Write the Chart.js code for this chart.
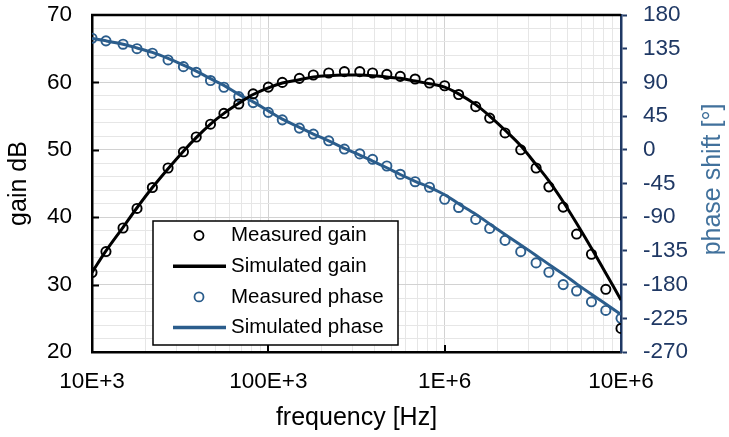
<!DOCTYPE html>
<html>
<head>
<meta charset="utf-8">
<script src="https://cdn.jsdelivr.net/npm/chart.js@4.4.0/dist/chart.umd.min.js"></script>
<style>
  html, body { margin: 0; padding: 0; background: #ffffff; }
  #chart { display: block; }
</style>
</head>
<body>
<canvas id="chart" width="729" height="437"></canvas>
<script>
// frequencies (E12 steps, Hz)
var freq = [10e3, 12e3, 15e3, 18e3, 22e3, 27e3, 33e3, 39e3, 47e3, 56e3, 68e3, 82e3,
            100e3, 120e3, 150e3, 180e3, 220e3, 270e3, 330e3, 390e3, 470e3, 560e3, 680e3, 820e3,
            1e6, 1.2e6, 1.5e6, 1.8e6, 2.2e6, 2.7e6, 3.3e6, 3.9e6, 4.7e6, 5.6e6, 6.8e6, 8.2e6, 10e6];

var gainMeasured = [31.8, 34.9, 38.4, 41.3, 44.4, 47.3, 49.7, 51.9, 53.8, 55.4, 56.8, 58.3,
                    59.3, 60.0, 60.6, 61.1, 61.4, 61.6, 61.6, 61.4, 61.2, 60.9, 60.5, 59.9,
                    59.5, 58.2, 56.4, 54.7, 52.5, 50.0, 47.3, 44.5, 41.5, 37.5, 34.5, 29.3, 23.5];

var gainSimulated = [31.8, 35.0, 38.5, 41.4, 44.4, 47.2, 49.8, 51.8, 53.8, 55.4, 56.9, 58.2,
                     59.2, 59.9, 60.4, 60.8, 61.0, 61.1, 61.1, 61.0, 60.8, 60.6, 60.2, 59.8,
                     59.3, 58.3, 56.7, 55.0, 52.9, 50.6, 47.8, 45.4, 42.3, 39.1, 35.4, 31.7, 27.7];

var phaseMeasured = [149, 145.5, 141, 135, 129, 120, 111, 103.5, 92.5, 83.5, 71, 63,
                     50, 40, 29, 21, 12, 1, -5.5, -12.7, -21.6, -32.7, -42.6, -50,
                     -66, -77, -93, -105, -121, -136, -151, -163.5, -180, -188.5, -203, -214.5, -225];

var phaseSimulated = [148.5, 145.5, 141, 136, 130, 122, 113, 105, 95, 86, 74, 64,
                      52, 41, 30, 21, 12, 2, -7, -15, -24, -33, -42, -50,
                      -60, -72, -86, -99, -113, -127, -141, -153, -166, -179, -193, -206, -220];

// axis ticks
var decades = [1e4, 1e5, 1e6, 1e7];
var decadeLabels = ['10E+3', '100E+3', '1E+6', '10E+6'];
var gainMin = 20, gainMax = 70, gainGridStep = 2, gainLabelStep = 10;
var phaseTicks = [-270, -225, -180, -135, -90, -45, 0, 45, 90, 135, 180];

var seriesNames = ['Measured gain', 'Simulated gain', 'Measured phase', 'Simulated phase'];

var BLUE = '#2B5D8C';
var NAVY = '#1F3864';
var FONT = "'Liberation Sans', Arial, sans-serif";

function pts(ys) {
  return freq.map(function(f, i) { return {x: f, y: ys[i]}; });
}

var freqGrid = [];
for (var d = 0; d < decades.length - 1; d++) {
  for (var m = 1; m < 10; m++) freqGrid.push(decades[d] * m);
}
freqGrid.push(decades[decades.length - 1]);

var gainGrid = [];
for (var g = gainMin; g <= gainMax; g += gainGridStep) gainGrid.push(g);

function isDecade(v) {
  return decades.some(function(d) { return Math.abs(v - d) / d < 1e-6; });
}

// keep tick padding from pushing the plot area down
function fixWidth(w) {
  return function(s) {
    s.width = w;
    s.paddingTop = 10;
    s.paddingBottom = 10;
  };
}

// top border, inward tick marks
var framePlugin = {
  id: 'frame',
  beforeDatasetsDraw: function(chart) {
    var a = chart.chartArea, ctx = chart.ctx;
    var sx = chart.scales.x, sy = chart.scales.y;
    ctx.save();
    ctx.strokeStyle = '#000';
    ctx.lineWidth = 2.5;
    ctx.beginPath();
    ctx.moveTo(a.left - 1, a.top);
    ctx.lineTo(a.right, a.top);
    ctx.stroke();
    ctx.lineWidth = 2;
    ctx.beginPath();
    gainGrid.forEach(function(v) {
      if (v % gainLabelStep === 0 && v > gainMin && v < gainMax) {
        var py = Math.round(sy.getPixelForValue(v)) + 0.5;
        ctx.moveTo(a.left, py);
        ctx.lineTo(a.left + 7, py);
      }
    });
    decades.forEach(function(v, i) {
      if (i > 0 && i < decades.length - 1) {
        var px = Math.round(sx.getPixelForValue(v));
        ctx.moveTo(px, a.bottom);
        ctx.lineTo(px, a.bottom - 7);
      }
    });
    ctx.stroke();
    ctx.restore();
  }
};

// boxed legend inside the plot and the right axis title
var legendPlugin = {
  id: 'boxLegend',
  afterDatasetsDraw: function(chart) {
    var ctx = chart.ctx;
    var bx = 153, by = 221, bw = 245, bh = 124;
    ctx.save();
    ctx.fillStyle = '#ffffff';
    ctx.fillRect(bx, by, bw, bh);
    ctx.strokeStyle = '#000';
    ctx.lineWidth = 1.5;
    ctx.strokeRect(bx, by, bw, bh);
    ctx.font = '20.5px ' + FONT;
    ctx.textBaseline = 'middle';
    ctx.textAlign = 'left';
    chart.data.datasets.forEach(function(ds, i) {
      var cy = by + 14.5 + i * 30.7;
      if (ds.showLine) {
        ctx.strokeStyle = ds.borderColor;
        ctx.lineWidth = 3.5;
        ctx.beginPath();
        ctx.moveTo(173, cy);
        ctx.lineTo(226, cy);
        ctx.stroke();
      } else {
        ctx.strokeStyle = ds.pointBorderColor;
        ctx.lineWidth = 1.8;
        ctx.beginPath();
        ctx.arc(199, cy, 4.5, 0, Math.PI * 2);
        ctx.stroke();
      }
      ctx.fillStyle = '#000';
      ctx.fillText(ds.label, 231, cy);
    });
    ctx.restore();
  },
  afterDraw: function(chart) {
    var a = chart.chartArea, ctx = chart.ctx;
    ctx.save();
    ctx.translate(713, (a.top + a.bottom) / 2 - 4);
    ctx.rotate(-Math.PI / 2);
    ctx.font = '25px ' + FONT;
    ctx.fillStyle = '#41719C';
    ctx.textAlign = 'center';
    ctx.textBaseline = 'middle';
    ctx.fillText('phase shift [°]', 0, 0);
    ctx.restore();
  }
};

Chart.defaults.font.family = FONT;
Chart.defaults.color = '#000';

new Chart(document.getElementById('chart'), {
  type: 'scatter',
  data: {
    datasets: [
      {
        label: seriesNames[0], data: pts(gainMeasured), yAxisID: 'y',
        showLine: false, pointRadius: 4.6, pointBorderWidth: 1.9,
        pointBorderColor: '#000', pointBackgroundColor: 'rgba(0,0,0,0)', order: 2
      },
      {
        label: seriesNames[1], data: pts(gainSimulated), yAxisID: 'y',
        showLine: true, borderColor: '#000', borderWidth: 3, pointRadius: 0,
        tension: 0.35, order: 0
      },
      {
        label: seriesNames[2], data: pts(phaseMeasured), yAxisID: 'y2',
        showLine: false, pointRadius: 4.6, pointBorderWidth: 1.9,
        pointBorderColor: BLUE, pointBackgroundColor: 'rgba(0,0,0,0)', order: 3
      },
      {
        label: seriesNames[3], data: pts(phaseSimulated), yAxisID: 'y2',
        showLine: true, borderColor: BLUE, borderWidth: 3, pointRadius: 0,
        tension: 0.35, order: 1
      }
    ]
  },
  options: {
    responsive: false,
    animation: false,
    layout: { padding: { top: 15, left: 0, right: 0, bottom: 0 } },
    plugins: { legend: { display: false }, tooltip: { enabled: false } },
    scales: {
      x: {
        type: 'logarithmic', position: 'bottom', min: 1e4, max: 1e7,
        afterBuildTicks: function(s) { s.ticks = freqGrid.map(function(v) { return {value: v}; }); },
        afterFit: function(s) { s.height = 85; },
        ticks: {
          autoSkip: false, maxRotation: 0, padding: 18.5, color: '#000',
          font: { size: 22.5, lineHeight: 1 },
          callback: function(v) {
            var i = decades.findIndex(function(d) { return Math.abs(v - d) / d < 1e-6; });
            return i >= 0 ? decadeLabels[i] : '';
          }
        },
        grid: {
          drawTicks: false,
          color: function(c) { return c.tick && isDecade(c.tick.value) ? '#d2d2d2' : '#e6e6e6'; }
        },
        border: { color: '#000', width: 2.5 },
        title: {
          display: true, text: 'frequency [Hz]', color: '#000',
          font: { size: 25, lineHeight: 1 }, padding: { top: 0, bottom: 6.5 }
        }
      },
      y: {
        type: 'linear', position: 'left', min: gainMin, max: gainMax,
        afterBuildTicks: function(s) { s.ticks = gainGrid.map(function(v) { return {value: v}; }); },
        afterFit: fixWidth(92),
        ticks: {
          autoSkip: false, padding: 20, color: '#000',
          font: { size: 22.5, lineHeight: 1 },
          callback: function(v) { return v % gainLabelStep === 0 ? String(v) : ''; }
        },
        grid: {
          drawTicks: false,
          color: function(c) { return c.tick && c.tick.value % gainLabelStep === 0 ? '#d2d2d2' : '#e6e6e6'; }
        },
        border: { color: '#000', width: 2.5 },
        title: {
          display: true, text: 'gain dB', color: '#000',
          font: { size: 25, lineHeight: 1 }, padding: { top: 7, bottom: 0 }
        }
      },
      y2: {
        type: 'linear', position: 'right',
        min: phaseTicks[0], max: phaseTicks[phaseTicks.length - 1],
        afterBuildTicks: function(s) { s.ticks = phaseTicks.map(function(v) { return {value: v}; }); },
        afterFit: fixWidth(108),
        ticks: {
          autoSkip: false, padding: 16, color: NAVY,
          font: { size: 22.5, lineHeight: 1 },
          callback: function(v) { return String(v); }
        },
        grid: { drawOnChartArea: false, drawTicks: true, tickLength: 6, tickColor: NAVY, tickWidth: 2 },
        border: { color: NAVY, width: 2.5 }
      }
    }
  },
  plugins: [framePlugin, legendPlugin]
});
</script>
</body>
</html>
